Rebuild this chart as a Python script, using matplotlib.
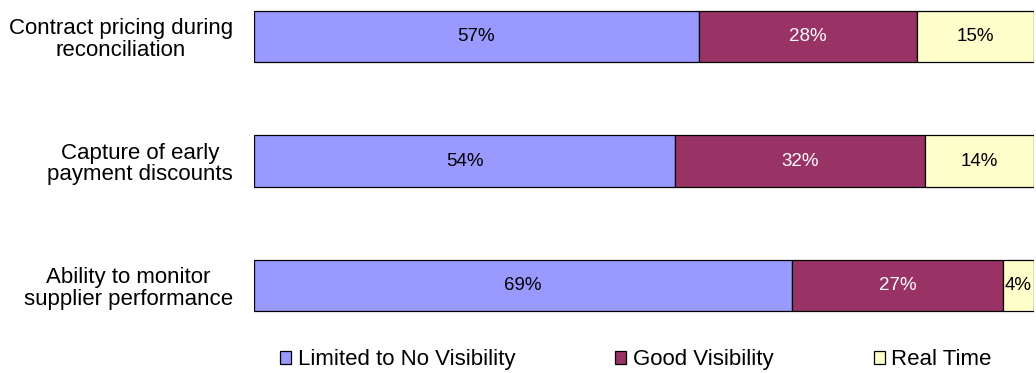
import matplotlib.pyplot as plt
import numpy as np

plt.rcParams['font.family'] = ['Liberation Sans', 'DejaVu Sans']

categories = ['Contract pricing during\nreconciliation',
              'Capture of early\npayment discounts',
              'Ability to monitor\nsupplier performance']
series_names = ['Limited to No Visibility', 'Good Visibility', 'Real Time']
limited = [57, 54, 69]
good = [28, 32, 27]
real_time = [15, 14, 4]

colors = ['#9999FF', '#993366', '#FFFFCC']
text_colors = ['black', 'white', 'black']

fig = plt.figure(figsize=(10.36, 3.73), dpi=100)
ax = fig.add_axes([254 / 1036, 43 / 373, (1034 - 254) / 1036, 330 / 373])

y = np.arange(len(categories))
left = np.zeros(len(categories))
for name, vals, c, tc in zip(series_names, [limited, good, real_time], colors, text_colors):
    bars = ax.barh(y, vals, left=left, height=0.41, color=c, edgecolor='black',
                   linewidth=0.9, label=name)
    ax.bar_label(bars, labels=[f'{v}%' for v in vals], label_type='center',
                 color=tc, fontsize=13.5)
    left += np.array(vals)

ax.set_xlim(0, 100)
ax.set_ylim(2.357, -0.293)
ax.set_yticks(y)
ax.set_yticklabels(categories, fontsize=16, multialignment='center', linespacing=1.05)
ax.tick_params(axis='y', length=0, pad=15)
ax.set_xticks([])
for s in ax.spines.values():
    s.set_visible(False)

fig.legend(loc='lower left', bbox_to_anchor=(271 / 1036, -0.017), ncol=3, frameon=False,
           fontsize=16, handlelength=0.5, handleheight=0.5, handletextpad=0.3,
           columnspacing=4.5, borderaxespad=0)

fig.savefig('out.png', dpi=100)
